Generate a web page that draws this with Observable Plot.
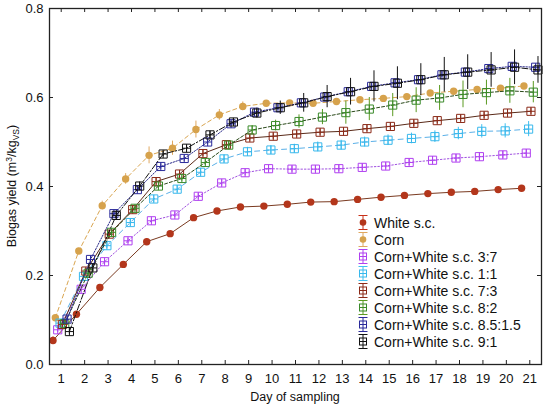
<!DOCTYPE html>
<html><head><meta charset="utf-8">
<script src="https://cdn.jsdelivr.net/npm/d3@7"></script>
<script src="https://cdn.jsdelivr.net/npm/@observablehq/plot@0.6"></script>
<style>
body{margin:0;background:#fff;font-family:"Liberation Sans",Arial,sans-serif;}
#wrap{position:relative;width:550px;height:408px;}
#legend{position:absolute;left:355px;top:214px;font-size:14px;color:#111;}
.row{display:flex;align-items:center;height:17px;white-space:nowrap;}
.row svg{margin-right:3px;flex:none;}
</style></head><body><div id="wrap"></div>
<script>
// ---- data ----
const days = [1,2,3,4,5,6,7,8,9,10,11,12,13,14,15,16,17,18,19,20,21];
const yTicks = [0, 0.2, 0.4, 0.6, 0.8];
const seriesNames = ["White s.c.","Corn","Corn+White s.c. 3:7","Corn+White s.c. 1:1","Corn+White s.c. 7:3","Corn+White s.c. 8:2","Corn+White s.c. 8.5:1.5","Corn+White s.c. 9:1"];

const white    = [0.054,0.113,0.173,0.225,0.276,0.294,0.330,0.345,0.354,0.356,0.360,0.365,0.366,0.371,0.376,0.380,0.384,0.387,0.389,0.393,0.396];
const whiteErr = [0.008,0.005,0.004,0.004,0.007,0.005,0.004,0.004,0.003,0.003,0.003,0.003,0.003,0.003,0.003,0.003,0.003,0.003,0.003,0.003,0.003];
const corn     = [0.105,0.255,0.357,0.417,0.470,0.486,0.528,0.561,0.580,0.587,0.588,0.587,0.591,0.595,0.598,0.602,0.610,0.614,0.618,0.621,0.626];
const cornErr  = [0.005,0.006,0.010,0.012,0.019,0.016,0.019,0.012,0.010,0.006,0.005,0.005,0.005,0.005,0.005,0.005,0.005,0.005,0.005,0.005,0.005];
const mix37    = [0.078,0.169,0.231,0.278,0.323,0.336,0.378,0.408,0.431,0.440,0.439,0.439,0.440,0.443,0.446,0.454,0.459,0.464,0.467,0.471,0.475];
const mix37Err = [0.006,0.006,0.006,0.006,0.006,0.006,0.007,0.007,0.007,0.007,0.007,0.007,0.007,0.007,0.007,0.007,0.008,0.008,0.008,0.008,0.008];
const mix11    = [0.093,0.198,0.267,0.319,0.372,0.394,0.432,0.462,0.478,0.482,0.485,0.489,0.493,0.500,0.504,0.508,0.512,0.519,0.524,0.525,0.529];
const mix11Err = [0.006,0.007,0.007,0.008,0.008,0.008,0.009,0.009,0.010,0.010,0.010,0.011,0.011,0.011,0.012,0.012,0.013,0.014,0.015,0.016,0.017];
const mix73    = [0.090,0.210,0.293,0.348,0.411,0.428,0.474,0.494,0.509,0.513,0.518,0.522,0.524,0.530,0.535,0.542,0.548,0.553,0.560,0.565,0.569];
const mix73Err = [0.006,0.006,0.008,0.008,0.008,0.008,0.007,0.007,0.007,0.007,0.007,0.007,0.007,0.007,0.007,0.007,0.007,0.007,0.007,0.007,0.007];
const mix82    = [0.092,0.205,0.297,0.351,0.401,0.418,0.454,0.493,0.527,0.537,0.546,0.556,0.566,0.574,0.583,0.594,0.599,0.607,0.611,0.615,0.612];
const mix82Err = [0.004,0.005,0.006,0.006,0.006,0.006,0.007,0.008,0.010,0.012,0.015,0.017,0.026,0.026,0.026,0.028,0.028,0.030,0.028,0.028,0.024];
const mix8515    = [0.102,0.236,0.339,0.393,0.445,0.463,0.500,0.541,0.567,0.577,0.588,0.601,0.613,0.625,0.633,0.640,0.651,0.657,0.665,0.670,0.668];
const mix8515Err = [0.006,0.006,0.006,0.006,0.006,0.006,0.006,0.006,0.006,0.006,0.006,0.006,0.006,0.006,0.006,0.006,0.006,0.006,0.006,0.006,0.006];
const mix91    = [0.074,0.217,0.335,0.401,0.473,0.486,0.516,0.545,0.565,0.577,0.588,0.602,0.613,0.625,0.632,0.640,0.651,0.657,0.662,0.668,0.662];
const mix91Err = [0.006,0.008,0.011,0.009,0.006,0.006,0.008,0.008,0.011,0.015,0.021,0.025,0.030,0.035,0.037,0.036,0.039,0.039,0.039,0.039,0.030];

const seriesValues = [white, corn, mix37, mix11, mix73, mix82, mix8515, mix91];
const seriesErrors = [whiteErr, cornErr, mix37Err, mix11Err, mix73Err, mix82Err, mix8515Err, mix91Err];

// ---- styles ----
const styles = [
  {color:"#b3361b", line:"#7a3a20", err:"#c83018", dash:null,       marker:"circle"},
  {color:"#d6a24c", line:"#d9a550", err:"#e0a860", dash:"4,3",      marker:"circle"},
  {color:"#b040f0", line:"#a050e0", err:"#b040f0", dash:"1.5,2",    marker:"box"},
  {color:"#38b8ec", line:"#5ab0e8", err:"#40c0f0", dash:"5,4",      marker:"box"},
  {color:"#8b2a18", line:"#5a2a18", err:"#8b2a18", dash:null,       marker:"box"},
  {color:"#3a8a2a", line:"#2a4a1a", err:"#5a9a20", dash:"3,2",      marker:"box"},
  {color:"#2a2a9a", line:"#2a2a8a", err:"#2a2a9a", dash:"1.5,1.5",  marker:"box"},
  {color:"#111111", line:"#111111", err:"#111111", dash:"6,2,1.5,2",marker:"box"}
];

const boxPlus = {
  draw(ctx, size) {
    const s = Math.sqrt(size) / 2;
    ctx.moveTo(-s, -s); ctx.lineTo(s, -s); ctx.lineTo(s, s); ctx.lineTo(-s, s); ctx.closePath();
    ctx.moveTo(0, -s); ctx.lineTo(0, s);
    ctx.moveTo(-s, 0); ctx.lineTo(s, 0);
  }
};

const W = 550, H = 408, mL = 49, mR = 9, mT = 8, mB = 44;
const innerW = W - mL - mR, innerH = H - mT - mB;
const dodgeStep = 0.1;

const marks = [];
seriesNames.forEach((name, i) => {
  const off = (i - (seriesNames.length - 1) / 2) * dodgeStep;
  const rows = days.map((d, j) => ({day: d, x: d + off, v: seriesValues[i][j], e: seriesErrors[i][j]}));
  const st = styles[i];
  marks.push(Plot.line(rows, {x: "x", y: "v", stroke: st.line, strokeWidth: 1, strokeDasharray: st.dash}));
  marks.push(Plot.ruleX(rows, {x: "x", y1: r => r.v - r.e, y2: r => r.v + r.e, stroke: st.err, strokeWidth: 1}));
  if (st.marker === "circle") {
    marks.push(Plot.dot(rows, {x: "x", y: "v", r: 3.7, fill: st.color, stroke: "none", symbol: "circle"}));
  } else {
    marks.push(Plot.dot(rows, {x: "x", y: "v", r: 4.6, fill: "none", stroke: st.color, strokeWidth: 1, symbol: boxPlus}));
  }
});

const chart = Plot.plot({
  width: W, height: H,
  marginLeft: mL, marginRight: mR, marginTop: mT, marginBottom: mB,
  style: {fontFamily: "'Liberation Sans', Arial, sans-serif", fontSize: "13px", color: "#111", background: "#fff"},
  x: {domain: [0.5, 21.5]},
  y: {domain: [0, 0.8]},
  marks: [
    Plot.axisX({ticks: days, tickSize: 0, tickPadding: 9, label: null, fontSize: 13}),
    Plot.axisY({ticks: yTicks, tickSize: 0, tickPadding: 6, tickFormat: d3.format(".1f"), label: null, fontSize: 13}),
    Plot.tickX(days, {x: d => d, insetTop: innerH - 4, stroke: "#222"}),
    Plot.tickX(days, {x: d => d, insetBottom: innerH - 4, stroke: "#222"}),
    Plot.tickY(yTicks, {y: d => d, insetLeft: innerW - 4, stroke: "#222"}),
    Plot.tickY(yTicks, {y: d => d, insetRight: innerW - 4, stroke: "#222"}),
    ...marks,
    Plot.frame({stroke: "#222", strokeWidth: 1.3})
  ]
});

const svg = d3.select(chart);
// y label with superscript / subscript
const yl = svg.append("text")
  .attr("transform", `translate(16,${mT + innerH / 2}) rotate(-90)`)
  .attr("text-anchor", "middle")
  .attr("font-size", "12.5px")
  .attr("fill", "#111");
yl.append("tspan").text("Biogas yield (m");
yl.append("tspan").attr("dy", -4).attr("font-size", "8.5px").text("3");
yl.append("tspan").attr("dy", 4).text("/kg");
yl.append("tspan").attr("dy", 3).attr("font-size", "8.5px").text("VS");
yl.append("tspan").attr("dy", -3).text(")");
// x label
svg.append("text")
  .attr("x", mL + innerW / 2).attr("y", 401)
  .attr("text-anchor", "middle")
  .attr("font-size", "12.5px")
  .attr("fill", "#111")
  .text("Day of sampling");

const wrap = document.getElementById("wrap");
wrap.appendChild(chart);

// legend
const legend = document.createElement("div");
legend.id = "legend";
seriesNames.forEach((name, i) => {
  const st = styles[i];
  const row = document.createElement("div");
  row.className = "row";
  const marker = st.marker === "circle"
    ? `<circle cx="8" cy="8.5" r="3.3" fill="${st.color}"/>`
    : `<rect x="4.5" y="5" width="7" height="7" fill="none" stroke="${st.color}"/><line x1="4.5" x2="11.5" y1="8.5" y2="8.5" stroke="${st.color}"/>`;
  row.innerHTML = `<svg width="16" height="17"><line x1="8" x2="8" y1="1.5" y2="15.5" stroke="${st.err}"/><line x1="3.5" x2="12.5" y1="1.5" y2="1.5" stroke="${st.err}"/><line x1="3.5" x2="12.5" y1="15.5" y2="15.5" stroke="${st.err}"/>${marker}</svg><span>${name}</span>`;
  legend.appendChild(row);
});
wrap.appendChild(legend);
</script>
</body></html>
